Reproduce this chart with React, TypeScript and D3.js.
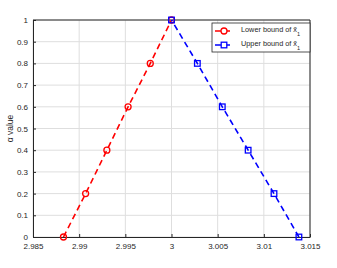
import React, { useEffect, useRef } from "react";
import * as d3 from "d3";

const alphaLevels = [0, 0.2, 0.4, 0.6, 0.8, 1];
const lowerX = [2.9883, 2.9907, 2.993, 2.9953, 2.9977, 3.0];
const upperX = [3.0138, 3.0111, 3.0083, 3.0055, 3.0028, 3.0];
const xTicks = [2.985, 2.99, 2.995, 3, 3.005, 3.01, 3.015];
const yTicks = [0, 0.1, 0.2, 0.3, 0.4, 0.5, 0.6, 0.7, 0.8, 0.9, 1];

function App() {
  const ref = useRef<SVGSVGElement>(null);

  useEffect(() => {
    const width = 337;
    const height = 268;
    const margin = { top: 20, left: 33, bottom: 31, right: 27 };

    const svg = d3.select(ref.current);
    svg.selectAll("*").remove();

    const x = d3.scaleLinear()
      .domain([2.985, 3.015])
      .range([margin.left, width - margin.right]);
    const y = d3.scaleLinear()
      .domain([0, 1])
      .range([height - margin.bottom, margin.top]);

    const font = "Liberation Sans, Arial, sans-serif";

    // grid
    const grid = svg.append("g").attr("stroke", "#dedede").attr("stroke-width", 1);
    grid.selectAll("line.vx").data(xTicks).enter().append("line")
      .attr("x1", d => x(d)).attr("x2", d => x(d))
      .attr("y1", y(0)).attr("y2", y(1));
    grid.selectAll("line.hy").data(yTicks).enter().append("line")
      .attr("x1", x(2.985)).attr("x2", x(3.015))
      .attr("y1", d => y(d)).attr("y2", d => y(d));

    // axes
    const xAxis = g => g
      .attr("transform", `translate(0, ${y(0)})`)
      .call(d3.axisBottom(x).tickValues(xTicks).tickFormat(d3.format("")).tickSize(-3).tickPadding(6).tickSizeOuter(0));
    const yAxis = g => g
      .attr("transform", `translate(${x(2.985)}, 0)`)
      .call(d3.axisLeft(y).tickValues(yTicks).tickFormat(d3.format("")).tickSize(-3).tickPadding(5).tickSizeOuter(0));

    [svg.append("g").call(xAxis), svg.append("g").call(yAxis)].forEach(g => {
      g.selectAll("text").attr("fill", "#262626").style("font-size", "8px").style("font-family", font);
      g.selectAll("line").attr("stroke", "#262626");
      g.select(".domain").attr("stroke", "#262626");
    });

    // box top/right
    svg.append("path")
      .attr("d", `M${x(2.985)},${y(1)}H${x(3.015)}V${y(0)}`)
      .attr("fill", "none").attr("stroke", "#262626");

    svg.append("text")
      .attr("transform", `translate(13, ${(y(0) + y(1)) / 2}) rotate(-90)`)
      .attr("text-anchor", "middle")
      .attr("fill", "#262626")
      .style("font-size", "8.5px").style("font-family", font)
      .text("α value");

    const line = d3.line<[number, number]>().x(d => x(d[0])).y(d => y(d[1]));
    const lower = lowerX.map((v, i) => [v, alphaLevels[i]] as [number, number]);
    const upper = upperX.map((v, i) => [v, alphaLevels[i]] as [number, number]);

    svg.append("path").datum(lower).attr("d", line)
      .attr("fill", "none").attr("stroke", "#ff0000").attr("stroke-width", 1.6).attr("stroke-dasharray", "6,4");
    svg.append("path").datum(upper).attr("d", line)
      .attr("fill", "none").attr("stroke", "#0000ff").attr("stroke-width", 1.6).attr("stroke-dasharray", "6,4");

    svg.append("g").selectAll("circle").data(lower).enter().append("circle")
      .attr("cx", d => x(d[0])).attr("cy", d => y(d[1])).attr("r", 3)
      .attr("fill", "none").attr("stroke", "#ff0000").attr("stroke-width", 1.3);
    svg.append("g").selectAll("rect").data(upper).enter().append("rect")
      .attr("x", d => x(d[0]) - 2.8).attr("y", d => y(d[1]) - 2.8)
      .attr("width", 5.6).attr("height", 5.6)
      .attr("fill", "none").attr("stroke", "#0000ff").attr("stroke-width", 1.3);

    // legend
    const lg = svg.append("g").attr("transform", "translate(212, 23)");
    lg.append("rect").attr("width", 98).attr("height", 29)
      .attr("fill", "#fff").attr("stroke", "#262626").attr("stroke-width", 0.8);
    const items = [
      { label: "Lower bound of ", color: "#ff0000", shape: "circle" },
      { label: "Upper bound of ", color: "#0000ff", shape: "square" },
    ];
    items.forEach((it, i) => {
      const cy = 8 + i * 14;
      lg.append("line").attr("x1", 3).attr("x2", 21).attr("y1", cy).attr("y2", cy)
        .attr("stroke", it.color).attr("stroke-width", 1.6).attr("stroke-dasharray", "6,3");
      if (it.shape === "circle") {
        lg.append("circle").attr("cx", 12).attr("cy", cy).attr("r", 3)
          .attr("fill", "#fff").attr("stroke", it.color).attr("stroke-width", 1.3);
      } else {
        lg.append("rect").attr("x", 9.2).attr("y", cy - 2.8).attr("width", 5.6).attr("height", 5.6)
          .attr("fill", "#fff").attr("stroke", it.color).attr("stroke-width", 1.3);
      }
      const t = lg.append("text").attr("x", 29).attr("y", cy + 1)
        .attr("fill", "#262626").style("font-size", "7.3px").style("font-family", font);
      t.append("tspan").text(it.label);
      t.append("tspan").text("x̃");
      t.append("tspan").attr("dy", 4).style("font-size", "5.5px").text("1");
    });
  }, []);

  return (
    <svg ref={ref} width={337} height={268} style={{ position: "absolute", left: 0, top: 0, background: "#fff" }} />
  );
}

export default App;
